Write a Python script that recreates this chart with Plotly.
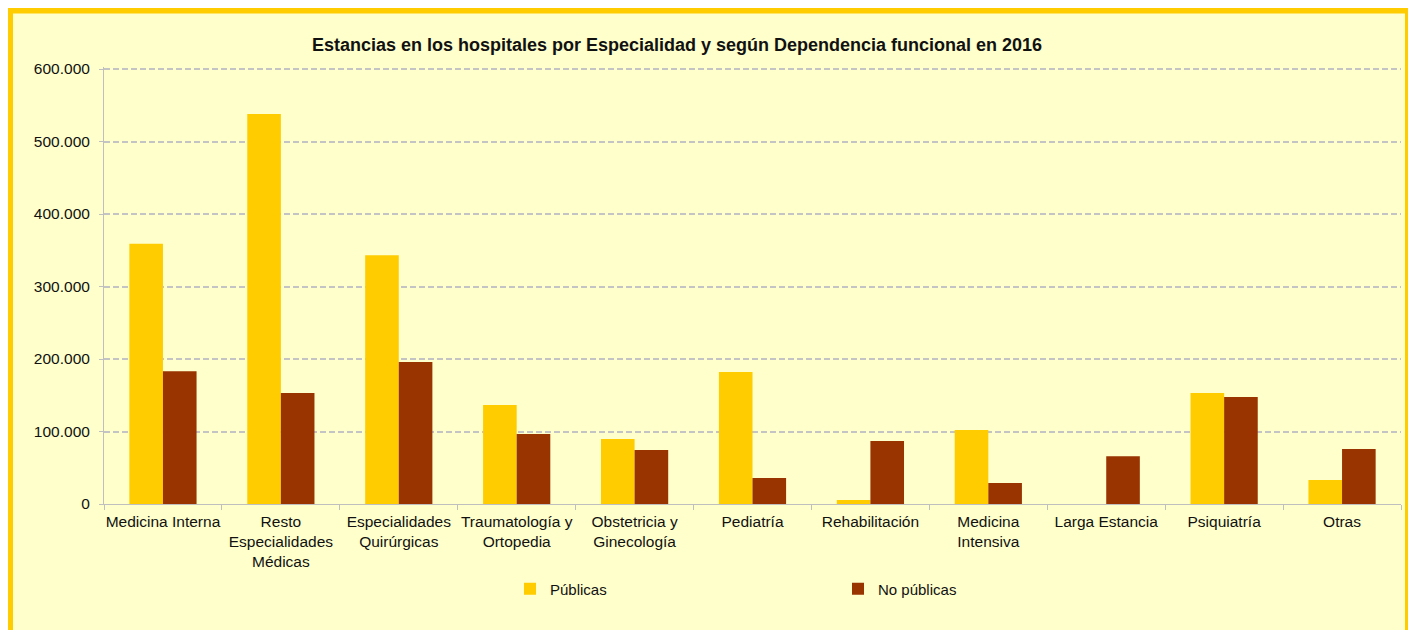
import plotly.graph_objects as go

categories = ["Medicina Interna", "Resto<br>Especialidades<br>Médicas", "Especialidades<br>Quirúrgicas",
              "Traumatología y<br>Ortopedia", "Obstetricia y<br>Ginecología", "Pediatría",
              "Rehabilitación", "Medicina<br>Intensiva", "Larga Estancia", "Psiquiatría", "Otras"]
publicas = [359000, 538000, 343000, 136500, 89500, 182000, 5500, 102000, 0, 153000, 33000]
no_publicas = [183000, 153000, 196000, 96500, 74500, 36000, 87000, 29000, 66000, 147500, 76000]
y_ticks = [0, 100000, 200000, 300000, 400000, 500000, 600000]

# page has an 8px body margin; figure coordinates are page coordinates minus 8
OFF = 8
W, H = 1416 - OFF, 630 - OFF
# 600.000 at page y=69, 0 at page y=504; range extended by 2px above 600.000
Y_TOP = 602760
ML, MR, MT, MB = 104 - OFF, 15, 69 - OFF - 2, 126
PW = W - ML - MR
PH = H - MT - MB

def px_x(p):
    return (p - OFF - ML) / PW

def px_y(p):
    return (H - MB - (p - OFF)) / PH

def cx(p):
    return (p - OFF) / W

def cy(p):
    return 1 - (p - OFF) / H

fig = go.Figure()
fig.add_trace(go.Bar(x=categories, y=publicas, name="Públicas",
                     marker=dict(color="#FFCC00", line=dict(width=0))))
fig.add_trace(go.Bar(x=categories, y=no_publicas, name="No públicas",
                     marker=dict(color="#993300", line=dict(width=0))))

fig.add_shape(type="rect", xref="paper", yref="paper",
              x0=px_x(10), x1=px_x(1408), y0=px_y(680), y1=px_y(10.5),
              line=dict(color="#FFCC00", width=6), fillcolor="#FFFFCC", layer="below")

fig.update_layout(
    width=W, height=H,
    margin=dict(l=ML, r=MR, t=MT, b=MB),
    paper_bgcolor="white",
    plot_bgcolor="rgba(0,0,0,0)",
    separators=",.",
    font=dict(family="Liberation Sans, Arial, sans-serif", size=15.5, color="#111111"),
    title=dict(text="<b>Estancias en los hospitales por Especialidad y según Dependencia funcional en 2016</b>",
               x=cx(677), xref="container", xanchor="center", y=cy(45), yref="container", yanchor="middle",
               font=dict(size=18, color="#111111")),
    bargap=0.43, bargroupgap=0,
    showlegend=True,
    legend=dict(orientation="h", x=cx(510), xref="container",
                y=cy(589), yref="container", yanchor="middle", xanchor="left",
                entrywidth=283, entrywidthmode="pixels", itemwidth=30,
                font=dict(size=15), bgcolor="rgba(0,0,0,0)"),
    xaxis=dict(showline=True, linecolor="#BFBFBF", linewidth=1, ticks="outside", tickson="boundaries",
               ticklen=5, tickcolor="#BFBFBF", showgrid=False, tickfont=dict(size=15.5),
               tickangle=0, automargin=False, ticklabelstandoff=3),
    yaxis=dict(range=[0, Y_TOP], tickvals=y_ticks, tickformat=",d", showline=True,
               linecolor="#BFBFBF", linewidth=1, ticks="outside", ticklen=4, tickcolor="#BFBFBF",
               showgrid=True, gridcolor="#C4C4C4", gridwidth=2, griddash="6px,3px",
               zeroline=False, tickfont=dict(size=15.5), ticklabelstandoff=6, automargin=False),
)

fig.write_html("out.html")
